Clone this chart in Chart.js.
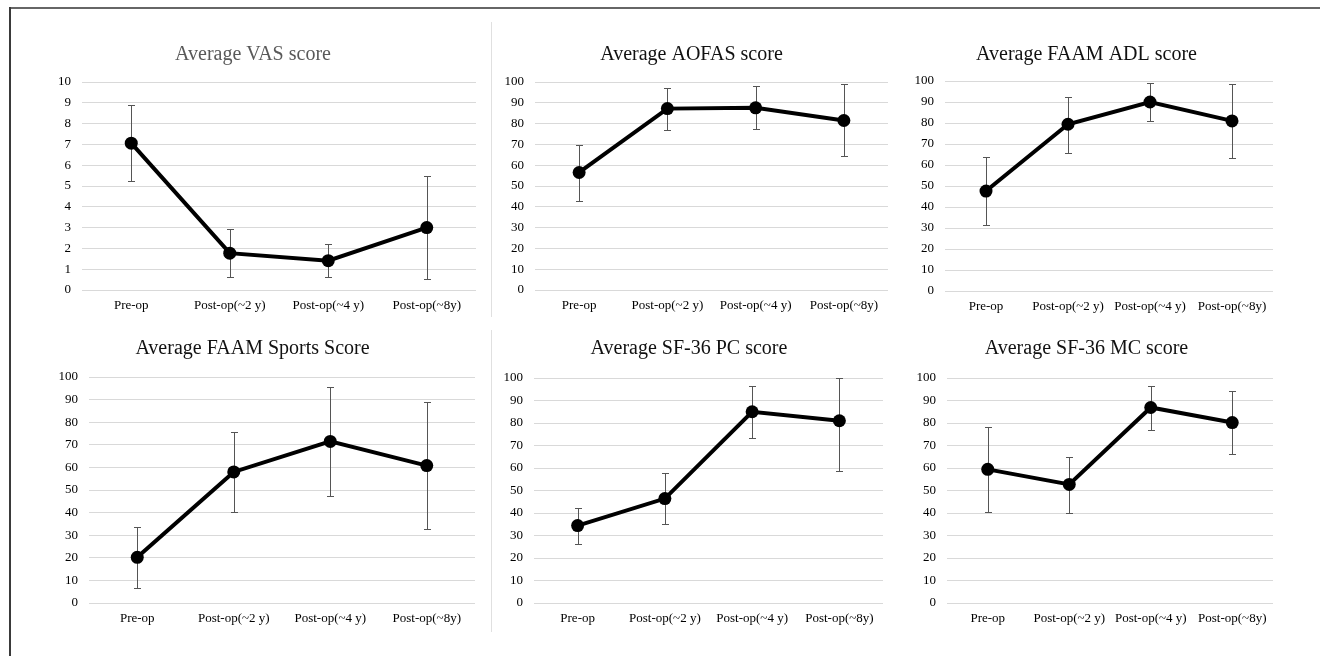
<!DOCTYPE html>
<html>
<head>
<meta charset="utf-8">
<script src="https://cdn.jsdelivr.net/npm/chart.js@4/dist/chart.umd.min.js"></script>
<style>
  html, body { margin: 0; padding: 0; background: #fff; }
  body { width: 1320px; height: 656px; position: relative; overflow: hidden; }
  canvas { position: absolute; }
  .ln { position: absolute; }
</style>
</head>
<body>
<div class="ln" style="left:9px;top:7px;width:1311px;height:2px;background:#666;"></div>
<div class="ln" style="left:9px;top:7px;width:2px;height:649px;background:#3a3a3a;"></div>
<div class="ln" style="left:491px;top:22px;width:1px;height:295px;background:#e0e0e0;"></div>
<div class="ln" style="left:491px;top:330px;width:1px;height:302px;background:#e0e0e0;"></div>

<canvas id="c1"></canvas>
<canvas id="c2"></canvas>
<canvas id="c3"></canvas>
<canvas id="c4"></canvas>
<canvas id="c5"></canvas>
<canvas id="c6"></canvas>

<script>
// ---------- data ----------
const categories = ['Pre-op', 'Post-op(~2 y)', 'Post-op(~4 y)', 'Post-op(~8y)'];

const vasTitle = 'Average VAS score';
const vasMean = [7.06, 1.77, 1.41, 3.0];
const vasLow  = [5.22, 0.61, 0.61, 0.51];
const vasHigh = [8.88, 2.94, 2.21, 5.5];
const vasTicks = [0, 1, 2, 3, 4, 5, 6, 7, 8, 9, 10];

const aofasTitle = 'Average AOFAS score';
const aofasMean = [56.5, 87.2, 87.6, 81.5];
const aofasLow  = [43.0, 77.0, 77.4, 64.2];
const aofasHigh = [69.8, 97.3, 97.9, 99.0];

const adlTitle = 'Average FAAM ADL score';
const adlMean = [47.6, 79.4, 90.0, 81.0];
const adlLow  = [31.3, 65.9, 81.0, 63.3];
const adlHigh = [63.7, 92.4, 98.9, 98.7];

const sportsTitle = 'Average FAAM Sports Score';
const sportsMean = [20.2, 58.0, 71.5, 60.8];
const sportsLow  = [6.6, 40.1, 47.2, 32.7];
const sportsHigh = [33.6, 75.5, 95.6, 88.8];

const pcTitle = 'Average SF-36 PC score';
const pcMean = [34.4, 46.4, 85.0, 81.0];
const pcLow  = [26.4, 35.1, 73.2, 58.8];
const pcHigh = [42.1, 57.8, 96.6, 100];

const mcTitle = 'Average SF-36 MC score';
const mcMean = [59.4, 52.7, 86.9, 80.2];
const mcLow  = [40.4, 40.1, 77.0, 66.1];
const mcHigh = [78.2, 65.1, 96.6, 94.3];

const hundredTicks = [0, 10, 20, 30, 40, 50, 60, 70, 80, 90, 100];

// ---------- error bar plugin ----------
const errorBars = {
  id: 'errorBars',
  beforeDatasetsDraw(chart, args, opts) {
    const ctx = chart.ctx;
    const xs = chart.scales.x, ys = chart.scales.y;
    if (!opts.low) return;
    ctx.save();
    ctx.strokeStyle = '#555555';
    ctx.lineWidth = 1;
    opts.low.forEach((l, i) => {
      const px = Math.round(xs.getPixelForValue(i)) + 0.5;
      const yl = Math.round(ys.getPixelForValue(l)) + 0.5;
      const yh = Math.round(ys.getPixelForValue(opts.high[i])) + 0.5;
      ctx.beginPath();
      ctx.moveTo(px, yl); ctx.lineTo(px, yh);
      ctx.moveTo(px - 3.5, yl); ctx.lineTo(px + 3.5, yl);
      ctx.moveTo(px - 3.5, yh); ctx.lineTo(px + 3.5, yh);
      ctx.stroke();
    });
    ctx.restore();
  }
};

const FONT = "'Liberation Serif', 'Times New Roman', serif";

function makeChart(id, g, title, titleColor, mean, low, high, ticks) {
  const cv = document.getElementById(id);
  cv.style.left = g.left + 'px';
  cv.style.top = g.top + 'px';
  cv.width = g.width; cv.height = g.height;
  cv.style.width = g.width + 'px'; cv.style.height = g.height + 'px';
  const maxV = ticks[ticks.length - 1];
  new Chart(cv, {
    type: 'line',
    data: {
      labels: categories,
      datasets: [{
        data: mean,
        borderColor: '#000',
        backgroundColor: '#000',
        borderWidth: 4,
        pointRadius: 6.5,
        pointBackgroundColor: '#000',
        pointBorderColor: '#000',
        pointBorderWidth: 0,
        tension: 0,
        clip: false
      }]
    },
    options: {
      responsive: false,
      animation: false,
      devicePixelRatio: 1,
      layout: { padding: { left: 0, right: g.padR, top: 0, bottom: 0 } },
      plugins: {
        legend: { display: false },
        tooltip: { enabled: false },
        title: {
          display: true,
          text: title,
          color: titleColor,
          font: { family: FONT, size: 20, weight: 'normal', lineHeight: 1.2 },
          padding: { top: g.tpt, bottom: g.tpb }
        },
        errorBars: { low: low, high: high }
      },
      scales: {
        x: {
          type: 'category',
          offset: true,
          grid: { display: false, drawTicks: false },
          border: { display: false },
          ticks: {
            color: '#000',
            font: { family: FONT, size: 13 },
            padding: 8,
            autoSkip: false,
            maxRotation: 0,
            minRotation: 0
          },
          afterFit(s) { s.height = 40; }
        },
        y: {
          min: 0,
          max: maxV,
          afterBuildTicks(s) { s.ticks = ticks.map(v => ({ value: v })); },
          grid: { color: '#d9d9d9', lineWidth: 1, drawTicks: false },
          border: { display: false },
          ticks: {
            color: '#000',
            font: { family: FONT, size: 13 },
            padding: 11
          },
          afterFit(s) { s.width = g.yW; }
        }
      }
    },
    plugins: [errorBars]
  });
}

// geometry: canvas box, chart-area aligned by y-axis width & title paddings
makeChart('c1', { left: 30, top: 30, width: 480, height: 300, padR: 34, yW: 52, tpt: 13, tpb: 15 },
  vasTitle, '#595959', vasMean, vasLow, vasHigh, vasTicks);
makeChart('c2', { left: 495, top: 30, width: 408, height: 300, padR: 15, yW: 40, tpt: 13, tpb: 15 },
  aofasTitle, '#111', aofasMean, aofasLow, aofasHigh, hundredTicks);
makeChart('c3', { left: 900, top: 30, width: 395, height: 301, padR: 22, yW: 45, tpt: 13, tpb: 14 },
  adlTitle, '#111', adlMean, adlLow, adlHigh, hundredTicks);
makeChart('c4', { left: 30, top: 325, width: 480, height: 318, padR: 35, yW: 59, tpt: 12, tpb: 16 },
  sportsTitle, '#111', sportsMean, sportsLow, sportsHigh, hundredTicks);
makeChart('c5', { left: 495, top: 325, width: 410, height: 318, padR: 22, yW: 39, tpt: 12, tpb: 17 },
  pcTitle, '#111', pcMean, pcLow, pcHigh, hundredTicks);
makeChart('c6', { left: 900, top: 325, width: 396, height: 318, padR: 23, yW: 47, tpt: 12, tpb: 17 },
  mcTitle, '#111', mcMean, mcLow, mcHigh, hundredTicks);
</script>
</body>
</html>
